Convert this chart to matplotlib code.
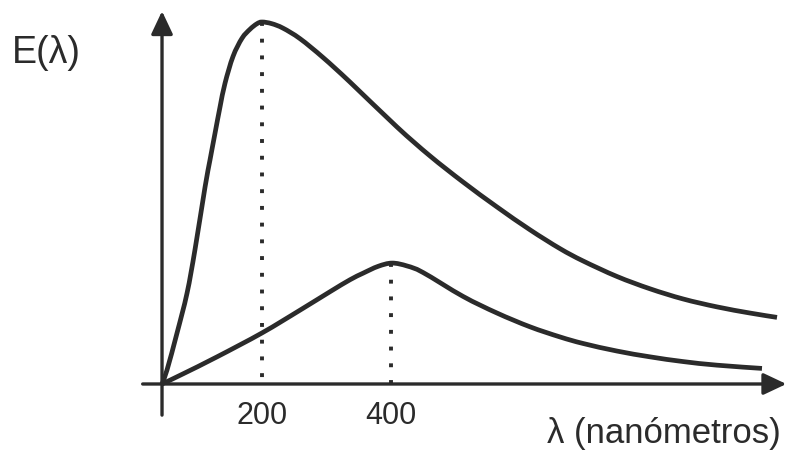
import matplotlib
matplotlib.use("Agg")
import numpy as np
import matplotlib.pyplot as plt
from matplotlib.path import Path
from matplotlib.patches import PathPatch

plt.rcParams["font.family"] = ["Liberation Sans", "DejaVu Sans"]

# wavelength (nm) and relative emittance
lam_hot = [45, 52.8, 68.3, 83.8, 96.2, 111.7, 119.4, 127.2, 134.9, 142.7,
           155.1, 169, 181.4, 192, 200, 215, 232.6, 258.9, 294.6, 336.5, 409.3,
           460.5, 511.7, 564.4, 615.5, 662, 697.7, 750.4, 801.6, 852.7, 905.5,
           956.6, 998.5]
E_hot = [0, 0.039, 0.141, 0.251, 0.372, 0.544, 0.619, 0.693, 0.765, 0.831,
         0.905, 0.955, 0.980, 0.995, 1.0, 0.9955, 0.983, 0.954, 0.902, 0.834, 0.710,
         0.630, 0.558, 0.489, 0.426, 0.374, 0.340, 0.297, 0.263, 0.235, 0.213,
         0.196, 0.184]

lam_cool = [45, 77.6, 130.3, 200, 259, 305.5, 336.5, 356.6, 380, 401.6, 425,
            449.7, 511.7, 564.4, 615.5, 662, 697.7, 750.4, 801.6, 852.7, 905.5,
            975.2]
E_cool = [0, 0.028, 0.075, 0.141, 0.204, 0.255, 0.288, 0.306, 0.325, 0.334, 0.326,
          0.308, 0.242, 0.196, 0.158, 0.130, 0.112, 0.091, 0.075, 0.062, 0.052,
          0.043]

peaks = [200, 400]
peak_E = [1.0, 0.334]
tick_labels = ["200", "400"]

ink = "#2b2b2b"


def smooth_path(xs, ys):
    """Catmull-Rom through the points, as cubic bezier segments."""
    pts = np.column_stack([xs, ys]).astype(float)
    n = len(pts)
    verts, codes = [pts[0]], [Path.MOVETO]
    for i in range(n - 1):
        p0 = pts[max(i - 1, 0)]
        p1, p2 = pts[i], pts[i + 1]
        p3 = pts[min(i + 2, n - 1)]
        verts += [p1 + (p2 - p0) / 6, p2 - (p3 - p1) / 6, p2]
        codes += [Path.CURVE4] * 3
    return Path(verts, codes)


fig = plt.figure(figsize=(7.87, 4.54), dpi=100)
ax = fig.add_axes([0, 0, 1, 1])
ax.set_xlim(-206.2, 1014)
ax.set_ylim(-0.1934, 1.0608)
ax.axis("off")

# axes with arrows
arrow = dict(arrowstyle="-|>,head_length=0.7,head_width=0.33", color=ink,
             lw=2.4, mutation_scale=20, shrinkA=0, shrinkB=0)
ax.annotate("", xy=(1013, 0), xytext=(15, 0), arrowprops=arrow)
ax.annotate("", xy=(45, 1.03), xytext=(45, -0.086), arrowprops=arrow)

# curves
for xs, ys in [(lam_hot, E_hot), (lam_cool, E_cool)]:
    ax.add_patch(PathPatch(smooth_path(xs, ys), fill=False, edgecolor=ink,
                           lw=3.4, capstyle="butt"))

# dotted lines at the peaks
for x, e in zip(peaks, peak_E):
    ax.plot([x, x], [e, 0], color=ink, lw=2.8, linestyle=(0, (1, 3.3)),
            dash_capstyle="butt")

for x, s in zip(peaks, tick_labels):
    ax.text(x, -0.088, s, ha="center", va="center", fontsize=22, color=ink)

fig.text(12 / 787, 1 - 53 / 454, "E(λ)", ha="left", va="center",
         fontsize=27, color=ink)
fig.text(781 / 787, 1 - 433 / 454, "λ (nanómetros)", ha="right", va="center",
         fontsize=25, color=ink)

fig.savefig("out.png", dpi=100)
